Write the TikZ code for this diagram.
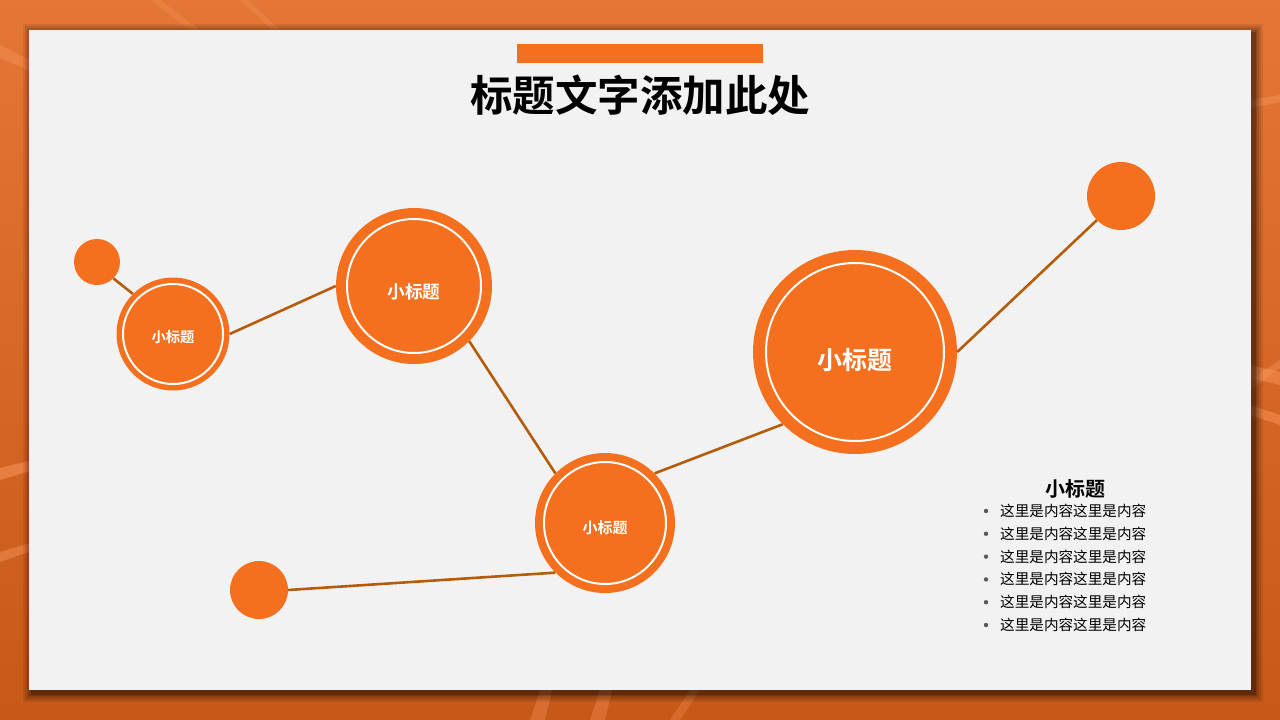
\documentclass[tikz,border=0pt]{standalone}
\usepackage{fontspec}
\newfontfamily\cjk{Noto Sans CJK SC}
\newfontfamily\cjkb{Noto Sans CJK SC Bold}
\usetikzlibrary{shadings}
\definecolor{bgtop}{RGB}{228,118,54}
\definecolor{bgbot}{RGB}{198,88,24}
\definecolor{panel}{RGB}{242,242,242}
\definecolor{org}{RGB}{245,112,30}
\definecolor{link}{RGB}{180,92,10}
\definecolor{stripe}{RGB}{250,150,90}
\tikzset{
  dot/.style={circle, fill=org, inner sep=0pt, draw=none},
  ring/.style={draw=white, line width=2pt},
  conn/.style={draw=link, line width=2.6pt},
  lbl/.style={text=white, font=\cjkb},
  bul/.style={anchor=west, font=\cjk\fontsize{14.6}{15}\selectfont, inner sep=0pt},
}
\begin{document}
\begin{tikzpicture}[x=1pt, y=-1pt]
\useasboundingbox (0,0) rectangle (1280,720);
% background
\shade[top color=bgtop, bottom color=bgbot] (0,0) rectangle (1280,720);
% decorative stripes
\fill[stripe, opacity=0.55] (0,468) -- (40,458) -- (40,468) -- (0,480) -- cycle;
\fill[stripe, opacity=0.45] (0,552) -- (40,540) -- (40,548) -- (0,562) -- cycle;
\fill[stripe, opacity=0.4] (0,45) -- (40,65) -- (40,75) -- (0,58) -- cycle;
\fill[stripe, opacity=0.45] (1250,100) -- (1280,95) -- (1280,102) -- (1250,108) -- cycle;
\fill[stripe, opacity=0.4] (1250,380) -- (1280,360) -- (1280,368) -- (1250,390) -- cycle;
\fill[stripe, opacity=0.5] (1250,365) -- (1280,372) -- (1280,385) -- (1250,378) -- cycle;
\fill[stripe, opacity=0.5] (1250,405) -- (1280,415) -- (1280,425) -- (1250,415) -- cycle;
\fill[stripe, opacity=0.35] (530,720) -- (540,690) -- (552,690) -- (545,720) -- cycle;
\fill[stripe, opacity=0.35] (590,720) -- (600,690) -- (612,690) -- (605,720) -- cycle;
\fill[stripe, opacity=0.3] (670,720) -- (690,690) -- (700,690) -- (680,720) -- cycle;
\fill[stripe, opacity=0.3] (150,0) -- (160,0) -- (200,30) -- (190,30) -- cycle;
\fill[stripe, opacity=0.3] (240,0) -- (248,0) -- (280,30) -- (272,30) -- cycle;
% panel shadow
\foreach \s/\o in {9/0.08,7/0.1,5/0.12,3/0.15,1.5/0.2}{
  \fill[black, opacity=\o] (29-\s+3,30-\s+3) rectangle (1251+\s+3,690+\s+3);
}
% panel
\fill[panel] (29,30) rectangle (1251,690);
% title
\fill[org] (517,44) rectangle (763,63);
\node[font=\cjkb\fontsize{42.5}{46}\selectfont] (title) at (640,95) {标题文字添加此处};
% circles
\node[dot, minimum size=46pt] (tl) at (97,262) {};
\node[dot, minimum size=68pt] (tr) at (1121,196) {};
\node[dot, minimum size=58pt] (bl) at (259,590) {};
\node[dot, minimum size=113pt] (a) at (173,334) {};
\node[dot, minimum size=156pt] (b) at (414,286) {};
\node[dot, minimum size=140pt] (c) at (605,523) {};
\node[dot, minimum size=204pt] (d) at (855,352) {};
% connectors
\path[conn] (tl.south east) -- (a.north west);
\path[conn] (a.east) -- (b.west);
\path[conn] (b.south east) -- (c.north west);
\path[conn] (c.north east) -- (d.south west);
\path[conn] (d.east) -- (tr.south west);
\path[conn] (bl.east) -- (c.south west);
% rings
\draw[ring] (a) circle[radius=50];
\draw[ring] (b) circle[radius=67];
\draw[ring] (c) circle[radius=61];
\draw[ring] (d) circle[radius=89];
% labels
\node[lbl, font=\cjkb\fontsize{14.3}{16}\selectfont] (la) at ([yshift=-3pt]a.center) {小标题};
\node[lbl, font=\cjkb\fontsize{17.7}{19}\selectfont] (lb) at ([yshift=-6pt]b.center) {小标题};
\node[lbl, font=\cjkb\fontsize{15}{17}\selectfont] (lc) at ([yshift=-5pt]c.center) {小标题};
\node[lbl, font=\cjkb\fontsize{25}{28}\selectfont] (ld) at ([yshift=-8pt]d.center) {小标题};
% text block
\node[font=\cjkb\fontsize{20}{22}\selectfont] (head) at (1075,489) {小标题};
\foreach \i in {0,...,5}{
  \node[bul] (bt\i) at (1000,511+22.8*\i) {这里是内容这里是内容};
  \fill[black!65] (986,511+22.8*\i) circle[radius=2.2];
}
\end{tikzpicture}
\end{document}
